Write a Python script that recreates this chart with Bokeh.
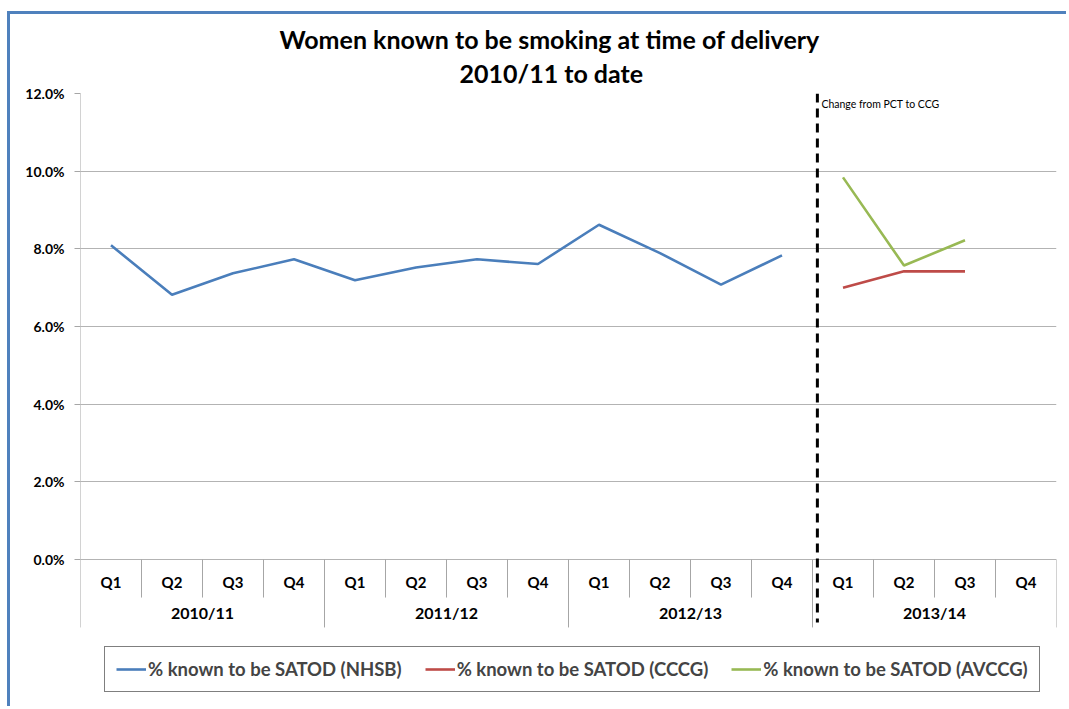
from bokeh.plotting import figure
from bokeh.models import (Range1d, FixedTicker, PrintfTickFormatter, Label,
                          Legend, LegendItem, Title, InlineStyleSheet)
from bokeh.core.properties import value
from bokeh.embed import file_html
from bokeh.resources import INLINE

# ---------------- data ----------------
years = ["2010/11", "2011/12", "2012/13", "2013/14"]
quarters = ["Q1", "Q2", "Q3", "Q4"]
nhsb = [8.09, 6.82, 7.37, 7.73, 7.19, 7.52, 7.73, 7.61, 8.62, 7.89, 7.08, 7.83]
cccg = [7.00, 7.42, 7.42]
avccg = [9.84, 7.57, 8.22]
y_ticks = [0, 2, 4, 6, 8, 10, 12]
series_labels = ["% known to be SATOD (NHSB)", "% known to be SATOD (CCCG)",
                 "% known to be SATOD (AVCCG)"]
title_line1 = "Women known to be smoking at time of delivery"
title_line2 = "2010/11 to date"
change_label = "Change from PCT to CCG"
change_after_quarter = 12  # boundary index (between 2012/13 Q4 and 2013/14 Q1)

n_q = len(years) * len(quarters)
FONT = "Lato"
BLUE, RED, GREEN = "#4A7EBB", "#BE4B48", "#98B954"
AXIS_GREY = "#A6A6A6"
W, H = 1066, 706
Y_TOP, Y_BOTTOM = 12, -3.786

p = figure(width=W, height=H, output_backend="svg", toolbar_location=None,
           x_range=Range1d(0, n_q), y_range=Range1d(Y_BOTTOM, Y_TOP),
           x_axis_location=None, min_border_left=80, min_border_right=10,
           min_border_top=93, min_border_bottom=0)
p.outline_line_color = None
p.xgrid.visible = False
p.stylesheets = [InlineStyleSheet(css="""
:host::before { content: ''; position: absolute; left: 7px; top: 11px; width: calc(100% - 7px); height: 3px;
                background: #4F81BD; z-index: 100; pointer-events: none; }
:host::after  { content: ''; position: absolute; left: 7px; top: 11px; width: 3px; height: calc(100% - 11px);
                background: #4F81BD; z-index: 100; pointer-events: none; }
""")]

# title (two lines, each centred)
p.add_layout(Title(text=title_line2, align="left", offset=379, text_font=FONT,
                   text_font_size="25px", text_font_style="bold", text_color="black",
                   standoff=12), "above")
p.add_layout(Title(text=title_line1, align="left", offset=199, text_font=FONT,
                   text_font_size="25px", text_font_style="bold", text_color="black",
                   standoff=-9), "above")

# y axis
yax = p.yaxis[0]
yax.ticker = FixedTicker(ticks=y_ticks)
yax.formatter = PrintfTickFormatter(format="%.1f%%")
yax.minor_tick_line_color = None
yax.major_tick_in = 0
yax.major_tick_out = 6
yax.axis_line_color = None
yax.major_tick_line_color = AXIS_GREY
yax.major_label_text_font = FONT
yax.major_label_text_font_style = "bold"
yax.major_label_text_font_size = "14px"
yax.major_label_text_color = "#000000"
yax.major_label_standoff = 10
p.ygrid.ticker = FixedTicker(ticks=y_ticks)
p.ygrid.grid_line_color = "#B3B3B3"
p.ygrid.grid_line_width = 1

# value axis line and category axis (drawn inside the frame below 0%)
Q_SEP_Y, Y_SEP_Y = -0.98, -1.75
Q_LAB_Y, Y_LAB_Y = -0.59, -1.36
p.segment(x0=[0], x1=[0], y0=[0], y1=[Y_TOP], line_color=AXIS_GREY, line_width=1)
bounds = list(range(n_q + 1))
p.segment(x0=bounds, x1=bounds, y0=[0] * len(bounds),
          y1=[Y_SEP_Y if b % len(quarters) == 0 else Q_SEP_Y for b in bounds],
          line_color=AXIS_GREY, line_width=1)
q_labels = quarters * len(years)
p.text(x=[i + 0.5 for i in range(n_q)], y=[Q_LAB_Y] * n_q, text=q_labels,
       text_align="center", text_baseline="middle", text_font=value(FONT),
       text_font_style="bold", text_font_size="15px", text_color="#000000")
p.text(x=[i * len(quarters) + len(quarters) / 2 for i in range(len(years))],
       y=[Y_LAB_Y] * len(years), text=years, text_align="center", text_baseline="middle",
       text_font=value(FONT), text_font_style="bold", text_font_size="16px",
       text_color="#000000")

# series
r1 = p.line(x=[i + 0.5 for i in range(len(nhsb))], y=nhsb, line_color=BLUE, line_width=2.6)
start = change_after_quarter
r2 = p.line(x=[start + i + 0.5 for i in range(len(cccg))], y=cccg, line_color=RED, line_width=2.6)
r3 = p.line(x=[start + i + 0.5 for i in range(len(avccg))], y=avccg, line_color=GREEN, line_width=2.6)

# change marker
cx = change_after_quarter + 0.08
p.segment(x0=[cx], x1=[cx], y0=[Y_TOP], y1=[-1.62], line_color="black",
          line_width=3, line_dash="9 6")
p.add_layout(Label(x=cx, y=11.72, x_offset=4, text=change_label,
                   text_font=FONT, text_font_size="10.5px", text_baseline="middle",
                   text_color="#000000"))

legend = Legend(items=[LegendItem(label=series_labels[0], renderers=[r1]),
                       LegendItem(label=series_labels[1], renderers=[r2]),
                       LegendItem(label=series_labels[2], renderers=[r3])],
                orientation="horizontal", location=(24, 14),
                label_text_font=FONT, label_text_font_style="bold", label_text_font_size="18.5px",
                label_standoff=2, glyph_width=30, spacing=23, padding=11, margin=0,
                border_line_color="black", border_line_width=1,
                background_fill_color="white", background_fill_alpha=1)
p.add_layout(legend, "center")

open("out.html", "w").write(file_html(p, INLINE))
